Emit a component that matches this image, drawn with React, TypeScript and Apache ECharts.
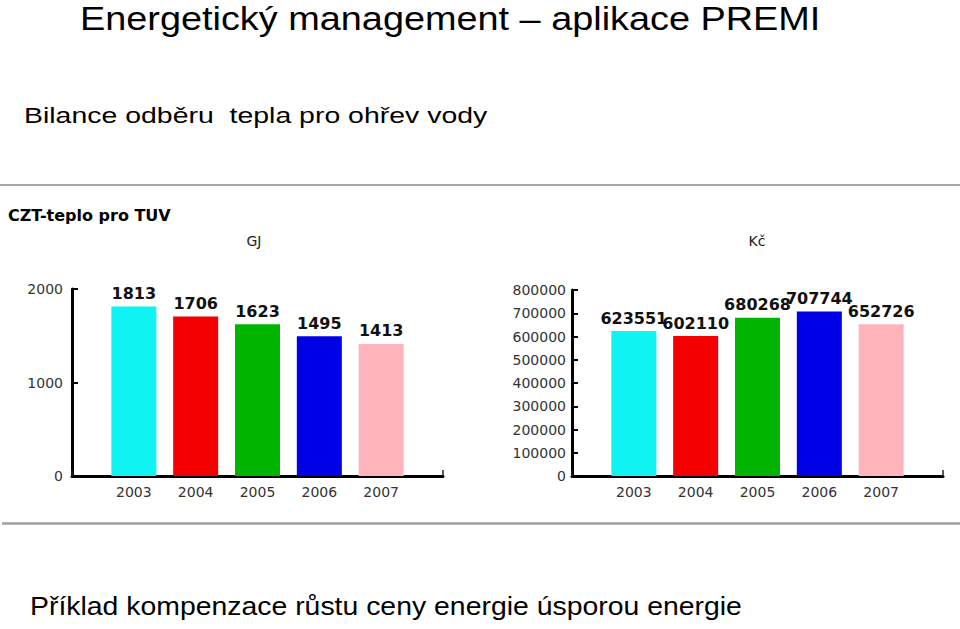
import React, { useEffect, useRef } from "react";
import * as echarts from "echarts";

const years = [2003, 2004, 2005, 2006, 2007];
const gjValues = [1813, 1706, 1623, 1495, 1413];
const kcValues = [623551, 602110, 680268, 707744, 652726];
const barColors = ["#10f3f3", "#f40000", "#00b400", "#0000e6", "#ffb4bc"];

const mainTitle = "Energetický management – aplikace PREMI";
const subTitle = "Bilance odběru  tepla pro ohřev vody";
const footer = "Příklad kompenzace růstu ceny energie úsporou energie";
const panelTitle = "CZT-teplo pro TUV";
const unitLeft = "GJ";
const unitRight = "Kč";

const axisFont = "DejaVu Sans";
const X_MIN = 2002;
const X_MAX = 2008;

function xAxisCfg(gridIndex: number) {
  return {
    type: "value",
    gridIndex,
    min: X_MIN,
    max: X_MAX,
    interval: 1,
    splitLine: { show: false },
    axisLine: { show: true, onZero: false, lineStyle: { color: "#000", width: 3 } },
    axisTick: { show: true, inside: true, length: 6, lineStyle: { color: "#222", width: 1.5 } },
    axisLabel: {
      color: "#333",
      fontFamily: axisFont,
      fontSize: 14,
      margin: 9,
      formatter: (v: number) => (years.indexOf(v) >= 0 ? String(v) : ""),
    },
  };
}

function yAxisCfg(gridIndex: number, max: number, interval: number, margin: number) {
  return {
    type: "value",
    gridIndex,
    min: 0,
    max,
    interval,
    splitLine: { show: false },
    axisLine: { show: true, onZero: false, lineStyle: { color: "#000", width: 3 } },
    axisTick: { show: true, inside: true, length: 6, lineStyle: { color: "#000", width: 2 } },
    axisLabel: {
      color: "#333",
      fontFamily: axisFont,
      fontSize: 14,
      margin,
      formatter: (v: number) => String(v),
    },
  };
}

function barSeries(idx: number, values: number[]) {
  return {
    type: "bar",
    xAxisIndex: idx,
    yAxisIndex: idx,
    barWidth: 45,
    data: years.map((y, i) => ({
      value: [y, values[i]],
      itemStyle: { color: barColors[i] },
    })),
    label: {
      show: true,
      position: "top",
      distance: 5,
      color: "#111",
      fontFamily: axisFont,
      fontWeight: "bold",
      fontSize: 16,
      formatter: (p: any) => String(p.value[1]),
    },
  };
}

export default function App() {
  const ref = useRef<HTMLDivElement>(null);
  useEffect(() => {
    if (!ref.current) return;
    const chart = echarts.init(ref.current, null, { renderer: "svg" });
    chart.setOption({
      animation: false,
      grid: [
        { left: 72, right: 517, top: 289, bottom: 153 },
        { left: 572, right: 17, top: 290, bottom: 153 },
      ],
      xAxis: [xAxisCfg(0), xAxisCfg(1)],
      yAxis: [yAxisCfg(0, 2000, 1000, 9), yAxisCfg(1, 800000, 100000, 6)],
      series: [barSeries(0, gjValues), barSeries(1, kcValues)],
      graphic: [
        {
          type: "text",
          x: 80,
          y: 19,
          scaleX: 1.147,
          style: { text: mainTitle, font: "33px 'Liberation Sans', Arial, sans-serif", fill: "#000", textVerticalAlign: "middle" },
        },
        {
          type: "text",
          x: 24,
          y: 115,
          scaleX: 1.237,
          style: { text: subTitle, font: "23px 'Liberation Sans', Arial, sans-serif", fill: "#000", textVerticalAlign: "middle" },
        },
        {
          type: "text",
          x: 30,
          y: 607,
          scaleX: 1.136,
          style: { text: footer, font: "25px 'Liberation Sans', Arial, sans-serif", fill: "#000", textVerticalAlign: "middle" },
        },
        {
          type: "line",
          shape: { x1: 0, y1: 185, x2: 960, y2: 185 },
          style: { stroke: "#8a8a8a", lineWidth: 1.5 },
        },
        {
          type: "line",
          shape: { x1: 2, y1: 523.5, x2: 960, y2: 523.5 },
          style: { stroke: "#a0a0a0", lineWidth: 2.5 },
        },
        {
          type: "text",
          x: 8,
          y: 215,
          style: { text: panelTitle, font: "bold 16px 'DejaVu Sans', sans-serif", fill: "#000", textVerticalAlign: "middle" },
        },
        {
          type: "text",
          x: 254,
          y: 241,
          style: { text: unitLeft, font: "14px 'DejaVu Sans', sans-serif", fill: "#222", textAlign: "center", textVerticalAlign: "middle" },
        },
        {
          type: "text",
          x: 757,
          y: 241,
          style: { text: unitRight, font: "14px 'DejaVu Sans', sans-serif", fill: "#222", textAlign: "center", textVerticalAlign: "middle" },
        },
      ],
    });
    return () => chart.dispose();
  }, []);
  return (
    <div
      ref={ref}
      style={{ position: "fixed", left: 0, top: 0, width: 960, height: 629, background: "#fff" }}
    />
  );
}
